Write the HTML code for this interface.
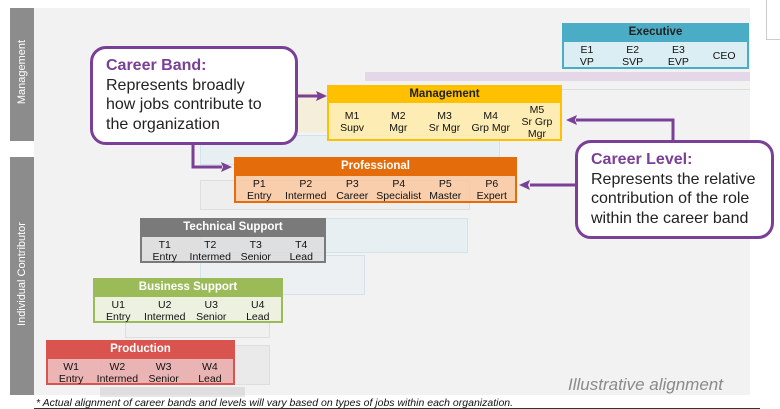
<!DOCTYPE html>
<html><head><style>
*{margin:0;padding:0;box-sizing:border-box}
body{width:780px;height:409px;background:#fff;position:relative;overflow:hidden;font-family:"Liberation Sans",sans-serif}
.a{position:absolute}
.bx{position:absolute;font-family:"Liberation Sans",sans-serif;font-size:10.5px;color:#111}
.hd{height:18px;line-height:18px;text-align:center;font-weight:bold;font-size:11.5px;color:#fff}
.row{display:flex;justify-content:space-around;text-align:center;line-height:12px;padding-top:2px}
.row div{flex:1}
.co{position:absolute;background:#fff;border:3px solid #7a3f96;border-radius:16px;font-size:16px;line-height:19.5px;color:#222;padding:7px 0 0 13px;white-space:nowrap}
.co b{color:#7a3f96}
.faint{position:absolute;opacity:.35}
</style></head><body>
<div class="a" style="left:34px;top:8px;width:716px;height:387px;background:#f2f2f2"></div>
<div class="a" style="left:10px;top:8px;width:24px;height:133px;background:#8c8c8c"></div>
<div class="a" style="left:10px;top:157px;width:24px;height:238px;background:#8c8c8c"></div>
<div class="a" style="left:-45px;top:66px;width:134px;text-align:center;transform:rotate(-90deg);color:#fff;font-size:11px">Management</div>
<div class="a" style="left:-77px;top:268px;width:198px;text-align:center;transform:rotate(-90deg);color:#fff;font-size:11px">Individual Contributor</div>

<div class="faint" style="left:365px;top:72px;width:385px;height:9px;background:#c9a6d8"></div>
<div class="faint" style="left:365px;top:81px;width:385px;height:9px;border-bottom:1px solid #bbb"></div>
<div class="faint" style="left:250px;top:92px;width:120px;height:40px;background:#fde9b0"></div>
<div class="faint" style="left:200px;top:135px;width:300px;height:30px;background:#d5ecf5;border:1px solid #9cd"></div>
<div class="faint" style="left:200px;top:180px;width:270px;height:30px;background:#e8e8e8;border:1px solid #bbb"></div>
<div class="faint" style="left:200px;top:218px;width:268px;height:35px;background:#d5ecf5;border:1px solid #9cd"></div>
<div class="faint" style="left:200px;top:255px;width:165px;height:40px;background:#e4eef5;border:1px solid #9cd"></div>
<div class="faint" style="left:125px;top:300px;width:145px;height:38px;background:#eee;border:1px solid #bbb"></div>
<div class="faint" style="left:100px;top:345px;width:170px;height:40px;background:#ddd;border:1px solid #bbb"></div>
<div class="faint" style="left:100px;top:387px;width:145px;height:10px;background:#bbb"></div>

<div class="bx" style="left:562px;top:23px;width:187px;height:46px;background:#dbeef4;border:2px solid #4bacc6">
<div class="hd" style="background:#4bacc6;color:#222;margin:-2px -2px 0;height:19px">Executive</div>
<div class="row"><div>E1<br>VP</div><div>E2<br>SVP</div><div>E3<br>EVP</div><div style="line-height:24px">CEO</div></div></div>
<div class="bx" style="left:327px;top:85px;width:235px;height:56px;background:rgba(255,236,170,.85);border:2px solid #ffc000">
<div class="hd" style="background:#ffc000;color:#222;margin:-2px -2px 0;height:18px">Management</div>
<div class="row" style="padding-top:1px"><div style="padding-top:6px">M1<br>Supv</div><div style="padding-top:6px">M2<br>Mgr</div><div style="padding-top:6px">M3<br>Sr Mgr</div><div style="padding-top:6px">M4<br>Grp Mgr</div><div>M5<br>Sr Grp<br>Mgr</div></div></div>
<div class="bx" style="left:234px;top:157px;width:283px;height:46px;background:rgba(250,200,160,.85);border:2px solid #e46c0a">
<div class="hd" style="background:#e46c0a;margin:-2px -2px 0;height:19px">Professional</div>
<div class="row"><div>P1<br>Entry</div><div>P2<br>Intermed</div><div>P3<br>Career</div><div>P4<br>Specialist</div><div>P5<br>Master</div><div>P6<br>Expert</div></div></div>
<div class="bx" style="left:140px;top:218px;width:186px;height:45px;background:rgba(220,220,220,.85);border:2px solid #7a7a7a">
<div class="hd" style="background:#7a7a7a;margin:-2px -2px 0;height:19px">Technical Support</div>
<div class="row"><div>T1<br>Entry</div><div>T2<br>Intermed</div><div>T3<br>Senior</div><div>T4<br>Lead</div></div></div>
<div class="bx" style="left:93px;top:278px;width:190px;height:45px;background:rgba(235,241,222,.9);border:2px solid #9bbb59">
<div class="hd" style="background:#9bbb59;margin:-2px -2px 0;height:19px">Business Support</div>
<div class="row"><div>U1<br>Entry</div><div>U2<br>Intermed</div><div>U3<br>Senior</div><div>U4<br>Lead</div></div></div>
<div class="bx" style="left:46px;top:340px;width:189px;height:45px;background:rgba(235,170,170,.85);border:2px solid #d9534f">
<div class="hd" style="background:#d9534f;margin:-2px -2px 0;height:19px">Production</div>
<div class="row"><div>W1<br>Entry</div><div>W2<br>Intermed</div><div>W3<br>Senior</div><div>W4<br>Lead</div></div></div>

<svg class="a" style="left:0;top:0" width="780" height="409">
<g stroke="#7a3f96" stroke-width="3" fill="none">
<path d="M297 96 H318"/><path d="M193 144 V167 H222"/>
<path d="M673 140 V120 H576"/><path d="M575 185 H530"/>
</g>
<g fill="#7a3f96">
<path d="M327 96 l-11 -5 l2 5 l-2 5z"/><path d="M232 167 l-11 -5 l2 5 l-2 5z"/>
<path d="M566 120 l11 -5 l-2 5 l2 5z"/><path d="M519 185 l11 -5 l-2 5 l2 5z"/>
</g></svg>

<div class="co" style="left:90px;top:46px;width:208px;height:99px"><b>Career Band:</b><br>Represents broadly<br>how jobs contribute to<br>the organization</div>
<div class="co" style="left:575px;top:140px;width:199px;height:99px;padding-left:13px"><b>Career Level:</b><br>Represents the relative<br>contribution of the role<br>within the career band</div>

<div class="a" style="left:568px;top:375px;font-size:17px;font-style:italic;color:#8a8a8a">Illustrative alignment</div>
<div class="a" style="left:36px;top:397px;font-size:10.5px;font-style:italic;color:#111">* Actual alignment of career bands and levels will vary based on types of jobs within each organization.</div>
<div class="a" style="left:34px;top:408px;width:726px;height:1px;background:#333"></div>
<div class="a" style="left:766px;top:0;width:14px;height:40px;border:1px solid #ccc;border-right:none;border-top:none;background:#fff"></div>
</body></html>
